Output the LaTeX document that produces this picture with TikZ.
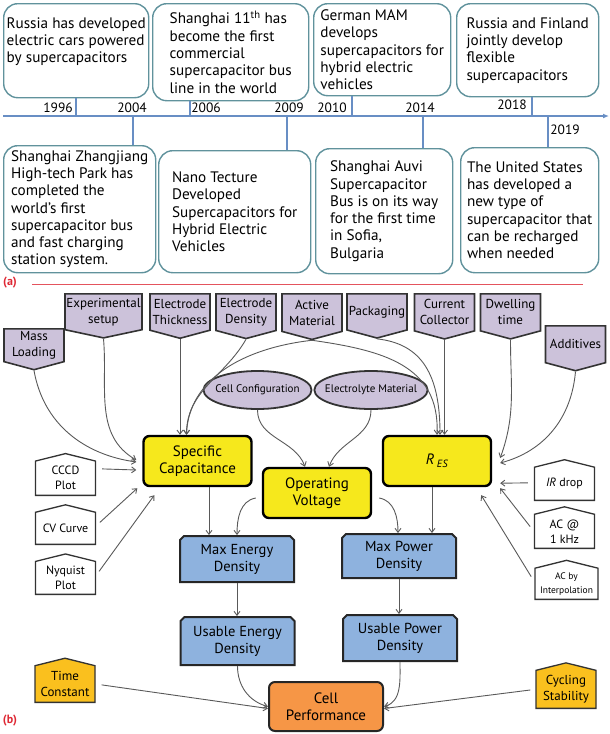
\documentclass[tikz,border=0pt]{standalone}
\usepackage{fontspec}
\setmainfont{PT Sans}
\usetikzlibrary{arrows.meta,shapes.symbols,shapes.misc,shapes.geometric,positioning}
\definecolor{teal edge}{RGB}{96,146,156}
\definecolor{axis blue}{RGB}{104,142,196}
\definecolor{lilac}{RGB}{204,194,218}
\definecolor{lemon}{RGB}{246,232,28}
\definecolor{sky}{RGB}{142,178,222}
\definecolor{tangerine}{RGB}{246,150,70}
\definecolor{amber}{RGB}{250,192,30}
\definecolor{label red}{RGB}{222,40,52}
\colorlet{shape edge}{black!80}
\colorlet{link}{black!65}
\tikzset{event/.style={draw=teal edge, line width=1.4pt, rounded corners=14pt,
        align=left, inner sep=3pt, anchor=north west,
        font=\fontsize{15.2}{17.3}\selectfont},
    year/.style={inner sep=1pt, font=\fontsize{13.5}{15}\selectfont},
    axis/.style={draw=axis blue, line width=1.6pt},
    factor/.style={signal, signal to=south, signal from=nowhere,
        signal pointer angle=150, fill=lilac, draw=shape edge, line width=1.6pt,
        align=center, minimum width=60pt, minimum height=44pt, inner sep=1pt,
        anchor=north, font=\fontsize{13}{16}\selectfont},
    oval/.style={ellipse, fill=lilac, draw=shape edge, line width=1.8pt,
        minimum width=108pt, minimum height=38pt, inner xsep=-6pt, inner ysep=0pt,
        font=\fontsize{11}{12}\selectfont},
    metric/.style={rectangle, rounded corners=6pt, fill=lemon, draw=black,
        line width=2.4pt, align=center, minimum width=108pt, minimum height=50pt,
        font=\fontsize{15}{17}\selectfont},
    density/.style={chamfered rectangle, chamfered rectangle corners={north west,north east},
        chamfered rectangle xsep=2pt, chamfered rectangle ysep=2pt,
        fill=sky, draw=black!85, line width=2pt, align=center,
        minimum width=114pt, minimum height=46pt, inner sep=1pt,
        font=\fontsize{14.5}{17}\selectfont},
    method/.style={signal, signal to=north, signal from=nowhere,
        signal pointer angle=152, fill=white, draw=shape edge, line width=1.3pt,
        align=center, minimum width=60pt, minimum height=38pt, inner sep=1pt,
        anchor=south, font=\fontsize{12}{15}\selectfont},
    outcome/.style={metric, fill=tangerine, draw=black!85, line width=2pt,
        minimum width=114pt, minimum height=49pt},
    flow/.style={draw=link, line width=0.9pt, -{Straight Barb[length=4pt,width=6pt]}}}

\begin{document}
\begin{tikzpicture}[x=1pt,y=-1pt]
    \useasboundingbox (0,0) rectangle (610,734);
    % (a) timeline
    \node[event, minimum width=144pt, minimum height=94pt] (e1996) at (3,3)
        {Russia has developed\\electric cars powered\\by supercapacitors\\[4pt]};
    \node[event, minimum width=156pt, minimum height=97pt] (e2006) at (152,3)
        {Shanghai 11\textsuperscript{th} has\\become the first\\commercial\\supercapacitor bus\\line in the world};
    \node[event, minimum width=137pt, minimum height=92pt] (e2010) at (313,3)
        {German MAM\\develops\\supercapacitors for\\hybrid electric\\vehicles};
    \node[event, minimum width=142pt, minimum height=93pt] (e2018) at (456,3)
        {Russia and Finland\\jointly develop\\flexible\\supercapacitors};
    \node[event, minimum width=152pt, minimum height=127pt] (e2004) at (3,145)
        {Shanghai Zhangjiang\\High-tech Park has\\completed the\\world's first\\supercapacitor bus\\and fast charging\\station system.};
    \node[event, minimum width=152pt, minimum height=122pt] (e2009) at (158,150)
        {Nano Tecture\\Developed\\Supercapacitors for\\Hybrid Electric\\Vehicles};
    \node[event, minimum width=137pt, minimum height=125pt] (e2014) at (315,148)
        {Shanghai Auvi\\Supercapacitor\\Bus is on its way\\for the first time\\in Sofia,\\Bulgaria};
    \node[event, minimum width=138pt, minimum height=125pt] (e2019) at (460,147)
        {The United States\\has developed a\\new type of\\supercapacitor that\\can be recharged\\when needed};

    \coordinate (start) at (3,116);
    \coordinate (end) at (609,116);
    \draw[axis, -{Latex[length=6pt,width=5pt]}] (start) -- (end);
    \foreach \yr/\xx in {1996/76, 2006/190, 2010/352, 2018/532} {
        \coordinate (k\yr) at (\xx,116);
        \draw[axis] (k\yr) -- (k\yr |- e\yr.south);
    }
    \foreach \yr/\xx in {2004/133, 2009/287, 2014/423, 2019/548} {
        \coordinate (k\yr) at (\xx,116);
        \draw[axis] (k\yr) -- (k\yr |- e\yr.north);
    }
    \node[year] (y1996) at (58,108) {1996};
    \node[year] (y2004) at (132,108) {2004};
    \node[year] (y2006) at (206,108) {2006};
    \node[year] (y2009) at (289,108) {2009};
    \node[year] (y2010) at (332,108) {2010};
    \node[year] (y2014) at (420,108) {2014};
    \node[year] (y2018) at (512,105) {2018};
    \node[year] (y2019) at (565,130) {2019};

    \node[text=label red, font=\bfseries\fontsize{12}{14}\selectfont, inner sep=0pt] (tag a) at (10,283) {(a)};
    \coordinate (rule a) at (32,284);
    \coordinate (rule b) at (583,284);
    \draw[label red!80, line width=0.7pt] (rule a) -- (rule b);

    % (b) parameters
    \node[factor, minimum height=39pt] (massload) at (34,328) {Mass\\Loading};
    \node[factor, minimum width=77pt, signal pointer angle=156] (expsetup) at (103.5,293) {Experimental\\setup};
    \node[factor] (elthick) at (180,293) {Electrode\\Thickness};
    \node[factor] (eldens) at (246,293) {Electrode\\Density};
    \node[factor] (actmat) at (312,293) {Active\\Material};
    \node[factor] (packaging) at (377,293) {Packaging};
    \node[factor] (curcoll) at (444.5,293) {Current\\Collector};
    \node[factor] (dwell) at (510.5,293) {Dwelling\\time};
    \node[factor] (additives) at (575.5,325) {Additives};

    \node[oval] (cellcfg) at (257.5,390) {Cell Configuration};
    \node[oval] (electro) at (371,390) {Electrolyte Material};

    \node[metric] (spcap) at (197.5,461) {Specific\\Capacitance};
    \node[metric] (res) at (437,461) {\textit{R\,\textsubscript{ES}}};
    \node[metric] (opv) at (317,493) {Operating\\Voltage};

    \node[density] (maxen) at (237,559) {Max Energy\\Density};
    \node[density, minimum height=44pt] (mxpw) at (399,556) {Max Power\\Density};
    \node[density, minimum height=48pt] (usen) at (237.5,641) {Usable Energy\\Density};
    \node[density] (uspw) at (400,638) {Usable Power\\Density};
    \node[outcome] (cellp) at (326,706.5) {Cell\\Performance};

    \node[method] (cccd) at (65.5,496) {CCCD\\Plot};
    \node[method] (cvcurve) at (65.5,545) {CV Curve};
    \node[method] (nyquist) at (65.5,595) {Nyquist\\Plot};
    \node[method] (irdrop) at (564.5,501) {\textit{IR} drop};
    \node[method] (ackhz) at (564.5,549) {AC @\\1 kHz};
    \node[method, minimum width=63pt, font=\fontsize{9.5}{14}\selectfont] (acinterp) at (566.5,600) {AC by\\Interpolation};
    \node[method, fill=amber, minimum height=43pt, font=\fontsize{13}{16}\selectfont] (timec) at (65,703) {Time\\Constant};
    \node[method, fill=amber, minimum height=44pt, font=\fontsize{13}{16}\selectfont] (cycst) at (566,709) {Cycling\\Stability};

    \node[text=label red, font=\bfseries\fontsize{12}{14}\selectfont, inner sep=0pt] (tag b) at (10,721) {(b)};

    % links into the metrics
    \draw[flow] (massload.south) to[out=-80,in=172] ([shift={(-6pt,-1pt)}]spcap.west);
    \draw[flow] (expsetup.south) to[out=-85,in=150] ([shift={(-6pt,1pt)}]spcap.west);
    \draw[flow] (elthick.south) -- (elthick.south |- spcap.north);
    \draw[flow] (eldens.south) to[out=-120,in=90] ([xshift=-11pt]spcap.north);
    \draw[flow] (actmat.south) .. controls +(-70pt,-8pt) and +(2pt,55pt) .. ([xshift=-11pt]spcap.north);
    \draw[flow] (actmat.south) .. controls +(70pt,-10pt) and +(3pt,70pt) .. (res.north);
    \draw[flow] (packaging.south) .. controls +(45pt,-5pt) and +(0pt,60pt) .. ([xshift=3pt]res.north);
    \draw[flow] (curcoll.south) -- (curcoll.south |- res.north);
    \draw[flow] (dwell.south) to[out=-90,in=70] ([shift={(8pt,3pt)}]res.east);
    \draw[flow] (additives.south) to[out=-95,in=15] ([shift={(8pt,-2pt)}]res.east);
    \draw[flow, shorten <=6pt] ([yshift=9.5pt]cccd.east) -- ([shift={(-6pt,-9pt)}]spcap.west);
    \draw[flow, shorten <=5pt] ([yshift=2.5pt]cvcurve.east) -- ([shift={(-5pt,-1pt)}]spcap.south west);
    \draw[flow, shorten <=5pt] ([yshift=2.5pt]nyquist.east) -- ([shift={(12pt,-8pt)}]spcap.south west);
    \draw[flow, shorten <=6pt] ([yshift=1pt]irdrop.west) -- ([shift={(8pt,4pt)}]res.south east);
    \draw[flow, shorten <=6pt] (ackhz.west) -- ([shift={(8pt,-1pt)}]res.south east);
    \draw[flow, shorten <=6pt] ([yshift=2pt]acinterp.west) -- ([shift={(-11pt,-8pt)}]res.south east);
    \draw[flow] (cellcfg.south) to[out=-90,in=110] ([xshift=-12pt]opv.north);
    \draw[flow] (electro.south) to[out=-90,in=70] ([xshift=12pt]opv.north);
    % links down to the densities
    \draw[flow] ([xshift=11.5pt]spcap.south) -- ([xshift=11.5pt]spcap.south |- maxen.north);
    \draw[flow] ([shift={(-6pt,-5pt)}]opv.west) to[out=190,in=90] (maxen.north);
    \draw[flow] ([shift={(7pt,-5pt)}]opv.east) to[out=-10,in=90] ([xshift=-1pt]mxpw.north);
    \draw[flow] ([xshift=-5pt]res.south) -- ([xshift=-5pt]res.south |- mxpw.north);
    \draw[flow] (maxen.south) -- (maxen.south |- usen.north);
    \draw[flow] (mxpw.south) -- (mxpw.south |- uspw.north);
    \draw[flow] (usen.south) to[out=-90,in=165] (cellp.west);
    \draw[flow] (uspw.south) to[out=-90,in=15] (cellp.east);
    \draw[flow, shorten <=6pt] (timec.east) -- ([yshift=-2pt]cellp.west);
    \draw[flow, shorten <=5pt] (cycst.west) -- ([yshift=-2pt]cellp.east);
\end{tikzpicture}
\end{document}
